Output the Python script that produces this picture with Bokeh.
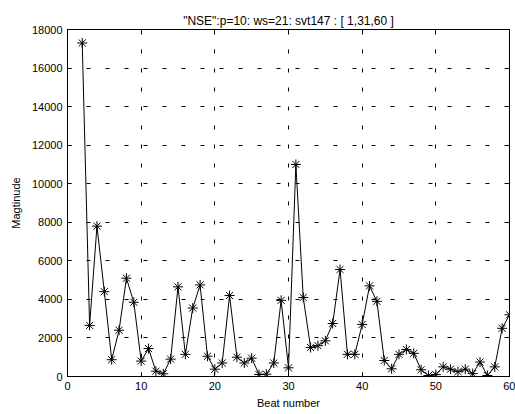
from bokeh.plotting import figure
from bokeh.models import FixedTicker, LinearAxis, Range1d
from bokeh.embed import file_html
from bokeh.resources import INLINE

beats = list(range(2, 61))
magnitude = [17300, 2650, 7800, 4400, 870, 2400, 5100, 3850, 800, 1450,
             275, 140, 900, 4650, 1150, 3550, 4750, 1050, 380, 700,
             4200, 1000, 700, 950, 100, 120, 700, 3950, 450, 11000,
             4100, 1500, 1600, 1850, 2750, 5550, 1150, 1150, 2700, 4700,
             3900, 830, 400, 1150, 1400, 1200, 350, 50, 100, 500,
             380, 250, 380, 150, 750, 50, 500, 2500, 3200]
x_ticks = [0, 10, 20, 30, 40, 50, 60]
y_ticks = [0, 2000, 4000, 6000, 8000, 10000, 12000, 14000, 16000, 18000]
title_text = '"NSE":p=10: ws=21: svt147 : [ 1,31,60 ]'

FONT = "Liberation Sans"

p = figure(width=515, height=414, output_backend="svg", toolbar_location=None,
           x_range=Range1d(0, 60), y_range=Range1d(0, 18000),
           min_border_left=67, min_border_right=6, min_border_top=29,
           min_border_bottom=38)

p.title.text = title_text
p.title.align = "center"
p.title.text_font = FONT
p.title.text_font_size = "12px"
p.title.text_font_style = "normal"
p.title.text_color = "black"
p.title.standoff = 4

p.outline_line_color = "black"
p.outline_line_width = 1
p.background_fill_color = "white"
p.border_fill_color = "white"

for ax, ticks in ((p.xaxis[0], x_ticks), (p.yaxis[0], y_ticks)):
    ax.ticker = FixedTicker(ticks=ticks)
    ax.minor_tick_line_color = None
    ax.major_tick_in = 4
    ax.major_tick_out = 0
    ax.major_label_text_font = FONT
    ax.major_label_text_font_size = "11px"
    ax.major_label_text_color = "black"
    ax.axis_line_color = "black"
    ax.major_tick_line_color = "black"
    ax.axis_label_text_font = FONT
    ax.axis_label_text_font_size = "11px"
    ax.axis_label_text_font_style = "normal"
    ax.axis_label_text_color = "black"

p.xaxis[0].axis_label = "Beat number"
p.xaxis[0].major_label_standoff = 5
p.xaxis[0].axis_label_standoff = 4
p.yaxis[0].axis_label = "Magtinude"
p.yaxis[0].major_label_standoff = 5
p.yaxis[0].axis_label_standoff = 7

for loc, ticks in (("above", x_ticks), ("right", y_ticks)):
    ax = LinearAxis(ticker=FixedTicker(ticks=ticks))
    ax.major_label_overrides = {t: "" for t in ticks}
    ax.major_label_text_color = None
    ax.major_label_text_font_size = "1px"
    ax.major_label_standoff = 0
    ax.minor_tick_line_color = None
    ax.major_tick_in = 4
    ax.major_tick_out = 0
    ax.axis_line_color = "black"
    ax.major_tick_line_color = "black"
    p.add_layout(ax, loc)

for g, ticks in ((p.xgrid[0], x_ticks), (p.ygrid[0], y_ticks)):
    g.ticker = FixedTicker(ticks=ticks)
    g.grid_line_color = "black"
    g.grid_line_dash = "4 15"
    g.grid_line_width = 1

p.line(beats, magnitude, line_color="black", line_width=1)
p.scatter(beats, magnitude, marker="asterisk", size=10, line_color="black",
          line_width=1)

open("out.html", "w").write(file_html(p, INLINE))
